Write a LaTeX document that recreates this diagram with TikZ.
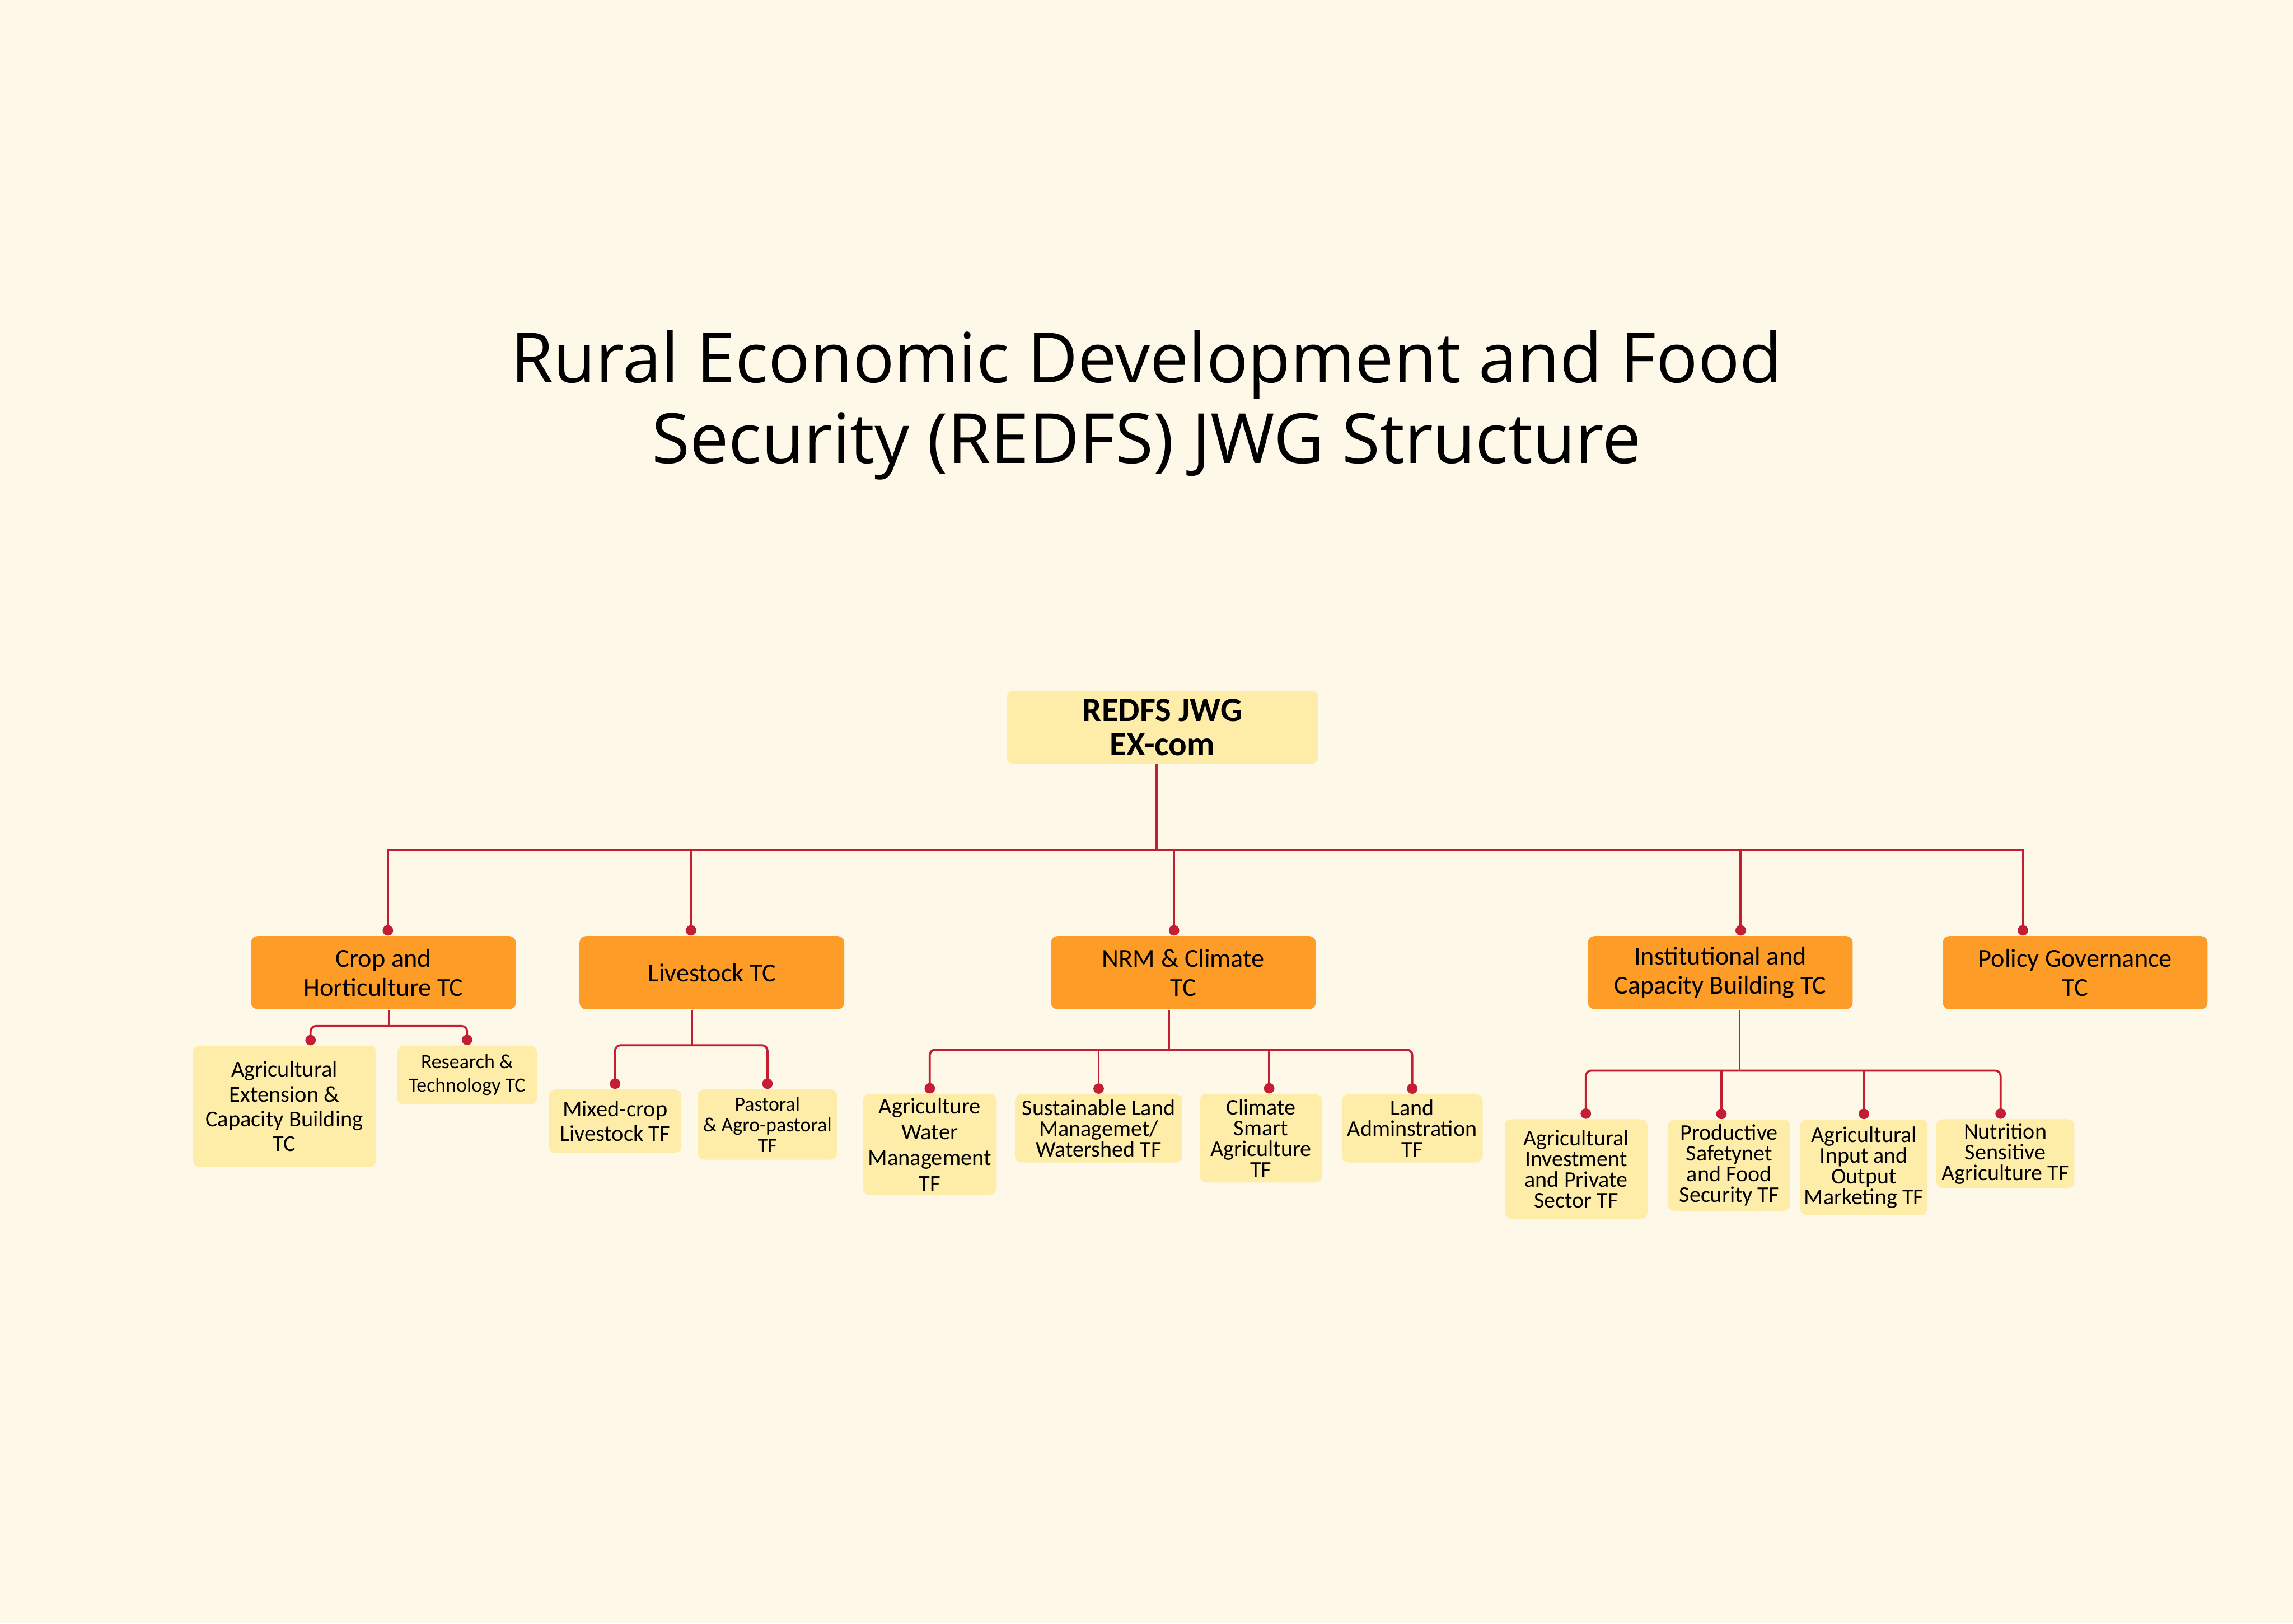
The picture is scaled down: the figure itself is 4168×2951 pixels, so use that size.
\documentclass[tikz,border=0pt]{standalone}
\usepackage{fontspec}
\setmainfont{Carlito}
\newfontfamily\titlefont{Open Sans}
\usetikzlibrary{arrows.meta}
\definecolor{paper}{HTML}{FEF8E8}
\definecolor{tcorange}{HTML}{FD9D27}
\definecolor{tfyellow}{HTML}{FEEDA9}
\definecolor{linkred}{HTML}{C41E35}
\setlength{\lineskiplimit}{-20pt}

\begin{document}
\begin{tikzpicture}[x=0.01cm, y=-0.01cm,
    box/.style={rectangle, rounded corners=0.12cm, align=center, inner sep=0pt},
    tc/.style={box, fill=tcorange, minimum width=4.81cm, minimum height=1.33cm,
        font=\fontsize{13.4}{15.1}\selectfont},
    tf/.style={box, fill=tfyellow, font=\fontsize{11.6}{10.7}\selectfont},
    link/.style={draw=linkred, line width=1.1pt},
    dot/.style={link, -{Circle[length=5.4pt, width=5.4pt]}}
]
    \fill[paper] (0,0) rectangle (4168,2951);

    \node[font=\titlefont\fontsize{35.8}{41.8}\selectfont, align=center] (title) at (2084,736)
        {Rural Economic Development and Food\\Security (REDFS) JWG Structure};

    \node[box, fill=tfyellow, minimum width=5.66cm, minimum height=1.33cm,
        font=\bfseries\fontsize{17.6}{17.6}\selectfont] (excom) at (2113,1322) {REDFS JWG\\EX-com};

    % technical committees
    \node[tc] (crop) at (697,1768) {Crop and\\Horticulture TC};
    \node[tc] (live) at (1294,1768) {Livestock TC};
    \node[tc] (nrm) at (2151,1768) {NRM \& Climate\\TC};
    \node[tc] (inst) at (3127,1768) {Institutional and\\Capacity Building TC};
    \node[tc] (policy) at (3772,1768) {Policy Governance\\TC};

    % task forces
    \node[tf, minimum width=3.33cm, minimum height=2.2cm, font=\fontsize{11.7}{12.8}\selectfont] (ext) at (517,2011)
        {Agricultural\\Extension \&\\Capacity Building\\TC};
    \node[tf, minimum width=2.54cm, minimum height=1.07cm, font=\fontsize{10.4}{12}\selectfont] (res) at (849,1954)
        {Research \&\\Technology TC};
    \node[tf, minimum width=2.4cm, minimum height=1.16cm, font=\fontsize{11.7}{12.8}\selectfont] (mixed) at (1118,2038)
        {Mixed-crop\\Livestock TF};
    \node[tf, minimum width=2.53cm, minimum height=1.28cm, font=\fontsize{10.4}{10.7}\selectfont] (past) at (1395,2044)
        {Pastoral\\\& Agro-pastoral\\TF};
    \node[tf, minimum width=2.43cm, minimum height=1.83cm, font=\fontsize{11.7}{13.3}\selectfont] (water) at (1690,2080)
        {Agriculture\\Water\\Management\\TF};
    \node[tf, minimum width=3.04cm, minimum height=1.24cm] (slm) at (1997,2051)
        {Sustainable Land\\Managemet/\\Watershed TF};
    \node[tf, minimum width=2.22cm, minimum height=1.61cm] (csa) at (2292,2069)
        {Climate\\Smart\\Agriculture\\TF};
    \node[tf, minimum width=2.56cm, minimum height=1.24cm] (land) at (2567,2051)
        {Land\\Adminstration\\TF};
    \node[tf, minimum width=2.59cm, minimum height=1.81cm] (invest) at (2865,2125)
        {Agricultural\\Investment\\and Private\\Sector TF};
    \node[tf, minimum width=2.22cm, minimum height=1.66cm] (safety) at (3143,2118)
        {Productive\\Safetynet\\and Food\\Security TF};
    \node[tf, minimum width=2.31cm, minimum height=1.74cm] (market) at (3388,2122)
        {Agricultural\\Input and\\Output\\Marketing TF};
    \node[tf, minimum width=2.51cm, minimum height=1.25cm] (nutri) at (3645,2097)
        {Nutrition\\Sensitive\\Agriculture TF};

    % bus points
    \coordinate (bus) at (2102,1545);
    \coordinate (cropbus) at (707,1865);
    \coordinate (livebus) at (1258,1900);
    \coordinate (nrmbus) at (2125,1908);
    \coordinate (instbus) at (3162,1946);

    \draw[link] (excom.south -| bus) -- (bus);
    \draw[dot] (bus) -| ([xshift=0.08cm]crop.north);
    \draw[dot] (bus) -| ([xshift=-0.38cm]live.north);
    \draw[dot] (bus) -| ([xshift=-0.17cm]nrm.north);
    \draw[dot] (bus) -| ([xshift=0.37cm]inst.north);
    \draw[dot] (bus) -| ([xshift=-0.95cm]policy.north);

    \draw[link] (crop.south -| cropbus) -- (cropbus);
    \draw[dot, rounded corners=0.1cm] (cropbus) -| ([xshift=0.475cm]ext.north);
    \draw[dot, rounded corners=0.1cm] (cropbus) -| (res.north);

    \draw[link] (live.south -| livebus) -- (livebus);
    \draw[dot, rounded corners=0.1cm] (livebus) -| (mixed.north);
    \draw[dot, rounded corners=0.1cm] (livebus) -| (past.north);

    \draw[link] (nrm.south -| nrmbus) -- (nrmbus);
    \draw[dot, rounded corners=0.1cm] (nrmbus) -| (water.north);
    \draw[dot] (slm.north |- nrmbus) -- (slm.north);
    \draw[dot] ([xshift=0.15cm]csa.north |- nrmbus) -- ([xshift=0.15cm]csa.north);
    \draw[dot, rounded corners=0.1cm] (nrmbus) -| (land.north);

    \draw[link] (inst.south -| instbus) -- (instbus);
    \draw[dot, rounded corners=0.1cm] (instbus) -| ([xshift=0.175cm]invest.north);
    \draw[dot] ([xshift=-0.14cm]safety.north |- instbus) -- ([xshift=-0.14cm]safety.north);
    \draw[dot] (market.north |- instbus) -- (market.north);
    \draw[dot, rounded corners=0.1cm] (instbus) -| ([xshift=-0.085cm]nutri.north);
\end{tikzpicture}
\end{document}
